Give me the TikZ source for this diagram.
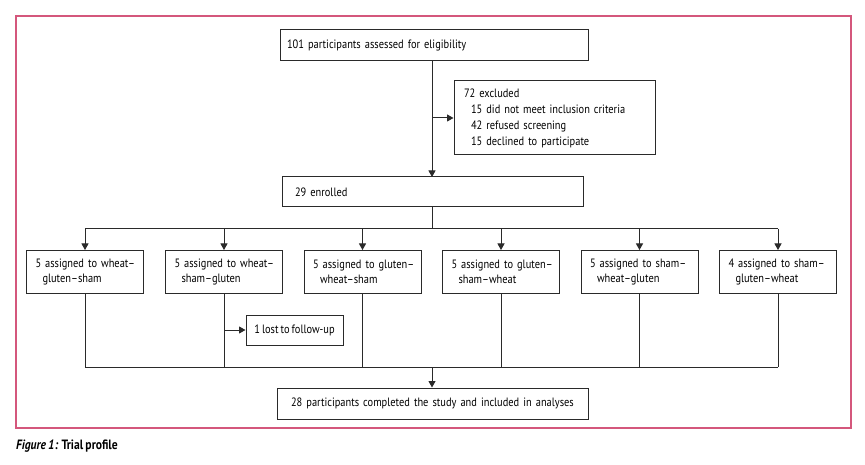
\documentclass[tikz,border=0pt]{standalone}
\usepackage{fontspec}
\setmainfont{PT Sans}[FakeStretch=0.86, WordSpace=0.75]
\usetikzlibrary{arrows.meta,positioning}
\definecolor{framecol}{HTML}{D4577C}
\definecolor{linecol}{HTML}{2A2A2A}
\tikzset{
  box/.style={draw=linecol, line width=1pt, rectangle, inner sep=0pt, text=black, font=\fontsize{12.1}{15}\selectfont},
  conn/.style={draw=linecol, line width=1pt},
  arr/.style={conn, -{Triangle[length=6.5pt,width=7pt]}},
}
\begin{document}
\begin{tikzpicture}[x=1pt,y=-1pt]
\useasboundingbox (0,0) rectangle (865,465);
\fill[white] (0,0) rectangle (865,465);
% frame
\draw[framecol, line width=1.6pt] (16,16) rectangle (851,428);

% nodes
\node[box, minimum width=308pt, minimum height=31pt, text width=294pt, align=left] (assess) at (434,45.5) {101 participants assessed for eligibility};
\node[box, minimum width=201pt, minimum height=74pt, text width=181pt, align=left, font=\fontsize{12.1}{16}\selectfont] (excl) at (554.5,118)
  {72 excluded\\\hspace*{7pt}15 did not meet inclusion criteria\\\hspace*{7pt}42 refused screening\\\hspace*{7pt}15 declined to participate};
\node[box, minimum width=301pt, minimum height=30pt, text width=275pt, align=left] (enrol) at (432.5,192) {29 enrolled};

\foreach \i/\cx/\la/\lb in {
  1/85/{5 assigned to wheat–}/{gluten–sham},
  2/224/{5 assigned to wheat–}/{sham–gluten},
  3/362.5/{5 assigned to gluten–}/{wheat–sham},
  4/501/{5 assigned to gluten–}/{sham–wheat},
  5/639.5/{5 assigned to sham–}/{wheat–gluten},
  6/778/{4 assigned to sham–}/{gluten–wheat}} {
  \node[box, minimum width=117pt, minimum height=43pt, text width=111pt, align=left] (g\i) at (\cx,272) {\hspace*{6pt}\la\\\hspace*{13pt}\lb};
}

\node[box, minimum width=97pt, minimum height=30pt, align=center] (lost) at (294.5,330) {1 lost to follow-up};
\node[box, minimum width=311pt, minimum height=31pt, text width=283pt, align=left] (final) at (432.5,403.5) {28 participants completed the study and included in analyses};

% coordinates
\coordinate (top) at (432,61);
\coordinate (ex) at (432,118);
\coordinate (enin) at (432,177);
\coordinate (split) at (432,229);
\coordinate (barL) at (85,229);
\coordinate (barR) at (778,229);
\coordinate (joinL) at (85,367);
\coordinate (joinR) at (778,367);
\coordinate (join) at (432,367);
\coordinate (lostfrom) at (224,330);

% connectors
\draw[arr] (top) -- (enin);
\draw[arr] (ex) -- (excl.west);
\draw[conn] (enrol.south -| split) -- (split);
\draw[conn] (barL) -- (barR);
\foreach \i in {1,...,6} {
  \draw[arr] (g\i.north |- split) -- (g\i.north);
  \draw[conn] (g\i.south) -- (g\i.south |- join);
}
\draw[conn] (joinL) -- (joinR);
\draw[arr] (lostfrom) -- (lost.west);
\draw[arr] (join) -- (final.north -| join);

% caption
\node[anchor=west, inner sep=0pt, font=\fontsize{13.5}{15}\selectfont\bfseries] (cap) at (16,446) {\textit{Figure 1:} Trial profile};
\end{tikzpicture}
\end{document}
